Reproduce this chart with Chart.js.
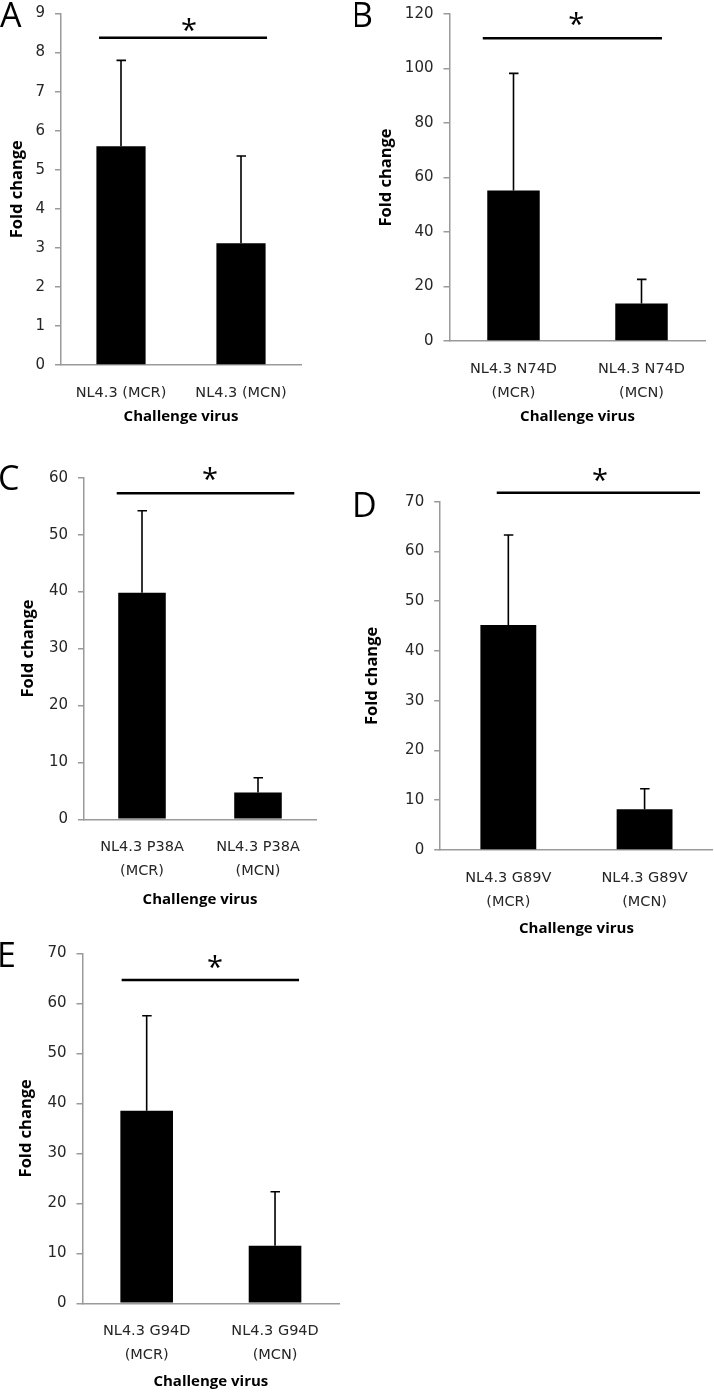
<!DOCTYPE html>
<html><head><meta charset="utf-8">
<script src="https://cdn.jsdelivr.net/npm/chart.js@4.4.1/dist/chart.umd.min.js"></script>
<style>
html,body{margin:0;padding:0;background:#fff;}
body{width:714px;height:1394px;position:relative;overflow:hidden;}
canvas{position:absolute;}
</style></head><body>
<canvas id="cA"></canvas><canvas id="cB"></canvas><canvas id="cC"></canvas><canvas id="cD"></canvas><canvas id="cE"></canvas>
<script>
// ---------- DATA ----------
const catsA = ["NL4.3 (MCR)", "NL4.3 (MCN)"];
const meanA = [5.6, 3.12];
const errA  = [2.2, 2.23];
const yMaxA = 9, yStepA = 1;

const catsB = [["NL4.3 N74D", "(MCR)"], ["NL4.3 N74D", "(MCN)"]];
const meanB = [55.2, 13.8];
const errB  = [43.0, 8.8];
const yMaxB = 120, yStepB = 20;

const catsC = [["NL4.3 P38A", "(MCR)"], ["NL4.3 P38A", "(MCN)"]];
const meanC = [39.8, 4.7];
const errC  = [14.4, 2.6];
const yMaxC = 60, yStepC = 10;

const catsD = [["NL4.3 G89V", "(MCR)"], ["NL4.3 G89V", "(MCN)"]];
const meanD = [45.2, 8.2];
const errD  = [18.1, 4.1];
const yMaxD = 70, yStepD = 10;

const catsE = [["NL4.3 G94D", "(MCR)"], ["NL4.3 G94D", "(MCN)"]];
const meanE = [38.5, 11.5];
const errE  = [19.0, 10.8];
const yMaxE = 70, yStepE = 10;

const yTitle = "Fold change";
const xTitle = "Challenge virus";
const sigMark = "*";

// ---------- LAYOUT / STYLE ----------
const AXIS = '#9a9a9a', TICK = '#262626';
const XTICKFONT = {family: "'DejaVu Sans'", size: 14.5, lineHeight: 24/14.5};
const YTICKFONT = {family: "'DejaVu Sans'", size: 15, lineHeight: 1.2};
const XTITLEFONT = {family: "'Open Sans'", size: 15, weight: 'bold', lineHeight: 1.2};
const YTITLEFONT = {family: "'Open Sans'", size: 16.5, weight: 'bold', lineHeight: 1.2};

// sig: y (value), x0/x1 (category index units), star position (index, value)
const panels = [
  {id:'cA', letter:'A', cats:catsA, mean:meanA, err:errA, max:yMaxA, step:yStepA,
   canvas:[0,-20,355,460], area:[61,13.5,301,365], yTitleX:17.2, xTitleY:417, letterPos:[0,27],
   sig:{y:8.38, x0:-0.183, x1:1.217, sx:0.567, sy:8.70}},
  {id:'cB', letter:'B', cats:catsB, mean:meanB, err:errB, max:yMaxB, step:yStepB,
   canvas:[355,-20,359,460], area:[449.5,14,705.5,341], yTitleX:385.8, xTitleY:417, letterPos:[354,27],
   sig:{y:111.1, x0:-0.24, x1:1.16, sx:0.49, sy:118.2}},
  {id:'cC', letter:'C', cats:catsC, mean:meanC, err:errC, max:yMaxC, step:yStepC,
   canvas:[0,430,355,490], area:[84,477.7,316,819.3], yTitleX:27.8, xTitleY:899.5, letterPos:[0,490],
   sig:{y:57.26, x0:-0.218, x1:1.313, sx:0.586, sy:60.65}},
  {id:'cD', letter:'D', cats:catsD, mean:meanD, err:errD, max:yMaxD, step:yStepD,
   canvas:[355,430,359,515], area:[440.2,501.7,712.7,850], yTitleX:372.5, xTitleY:929, letterPos:[355,516.5],
   sig:{y:71.8, x0:-0.085, x1:1.407, sx:0.673, sy:75.36}},
  {id:'cE', letter:'E', cats:catsE, mean:meanE, err:errE, max:yMaxE, step:yStepE,
   canvas:[0,900,355,494], area:[82.5,953.3,339.2,1303.3], yTitleX:25.8, xTitleY:1381.5, letterPos:[0,967],
   sig:{y:64.66, x0:-0.195, x1:1.187, sx:0.532, sy:68.3}}
];

const extras = {
  id: 'extras',
  afterDatasetsDraw(chart, args, o) {
    const ctx = chart.ctx, ys = chart.scales.y;
    const meta = chart.getDatasetMeta(0);
    const vals = chart.data.datasets[0].data;
    ctx.save();
    ctx.strokeStyle = '#000'; ctx.lineWidth = 1.6; ctx.lineCap = 'butt';
    meta.data.forEach((bar, i) => {
      const yb = ys.getPixelForValue(vals[i]);
      const yt = ys.getPixelForValue(vals[i] + o.err[i]);
      ctx.beginPath();
      ctx.moveTo(bar.x, yb); ctx.lineTo(bar.x, yt);
      ctx.moveTo(bar.x - 4.5, yt); ctx.lineTo(bar.x + 5, yt);
      ctx.stroke();
    });
    ctx.restore();
  },
  afterDraw(chart, args, o) {
    const ctx = chart.ctx, xs = chart.scales.x, ys = chart.scales.y;
    const p0 = xs.getPixelForValue(0), p1 = xs.getPixelForValue(1);
    const px = t => p0 + t * (p1 - p0);
    ctx.save();
    const s = o.sig;
    ctx.strokeStyle = '#000'; ctx.lineWidth = 2.5;
    const ly = ys.getPixelForValue(s.y);
    ctx.beginPath(); ctx.moveTo(px(s.x0), ly); ctx.lineTo(px(s.x1), ly); ctx.stroke();
    // star
    ctx.fillStyle = '#000';
    ctx.font = "29px 'Open Sans'";
    ctx.textAlign = 'left'; ctx.textBaseline = 'alphabetic';
    let m = ctx.measureText(sigMark);
    const cx = px(s.sx), cy = ys.getPixelForValue(s.sy);
    ctx.fillText(sigMark, cx - (m.actualBoundingBoxRight - m.actualBoundingBoxLeft) / 2,
                 cy - (m.actualBoundingBoxDescent - m.actualBoundingBoxAscent) / 2);
    // panel letter
    ctx.font = "34px 'Open Sans'";
    m = ctx.measureText(o.letter);
    ctx.fillText(o.letter, o.letterX + m.actualBoundingBoxLeft, o.letterY);
    ctx.restore();
  }
};
Chart.register(extras);

panels.forEach(p => {
  const [cx, cy, cw, ch] = p.canvas;
  const [al, at, ar, ab] = p.area;
  const cv = document.getElementById(p.id);
  cv.width = cw; cv.height = ch;
  cv.style.left = cx + 'px'; cv.style.top = cy + 'px';
  cv.style.width = cw + 'px'; cv.style.height = ch + 'px';
  const xlh = XTITLEFONT.size * XTITLEFONT.lineHeight;
  const ylh = YTITLEFONT.size * YTITLEFONT.lineHeight;
  const Wy = al - cx;
  const Hx = cy + ch - ab;
  const yTitlePad = p.yTitleX - cx - ylh / 2;
  const xTitlePad = (cy + ch) - p.xTitleY - xlh / 2;
  new Chart(cv, {
    type: 'bar',
    data: {
      labels: p.cats,
      datasets: [{data: p.mean, backgroundColor: '#000', borderWidth: 0,
                  barPercentage: 0.41, categoryPercentage: 1}]
    },
    options: {
      responsive: false, animation: false, devicePixelRatio: 1,
      layout: {padding: {left: 0, top: at - cy, right: cx + cw - ar, bottom: 0}},
      plugins: {
        legend: {display: false}, tooltip: {enabled: false},
        extras: {err: p.err, sig: p.sig, letter: p.letter,
                 letterX: p.letterPos[0] - cx, letterY: p.letterPos[1] - cy}
      },
      scales: {
        x: {
          grid: {display: false, drawTicks: false},
          border: {display: true, color: AXIS, width: 1.5},
          ticks: {font: XTICKFONT, color: TICK, padding: 16, maxRotation: 0, autoSkip: false},
          title: {display: true, text: xTitle, font: XTITLEFONT, color: '#000',
                  padding: {top: 0, bottom: xTitlePad}},
          afterFit: s => { s.height = Hx; }
        },
        y: {
          min: 0, max: p.max,
          ticks: {stepSize: p.step, font: YTICKFONT, color: TICK, padding: 10},
          grid: {display: true, drawOnChartArea: false, drawTicks: true, tickLength: 6,
                 color: AXIS, lineWidth: 1.5},
          border: {display: true, color: AXIS, width: 1.5},
          title: {display: true, text: yTitle, font: YTITLEFONT, color: '#000',
                  padding: {top: yTitlePad, bottom: 0}},
          afterFit: s => { s.width = Wy; }
        }
      }
    }
  });
});
</script>
</body></html>
